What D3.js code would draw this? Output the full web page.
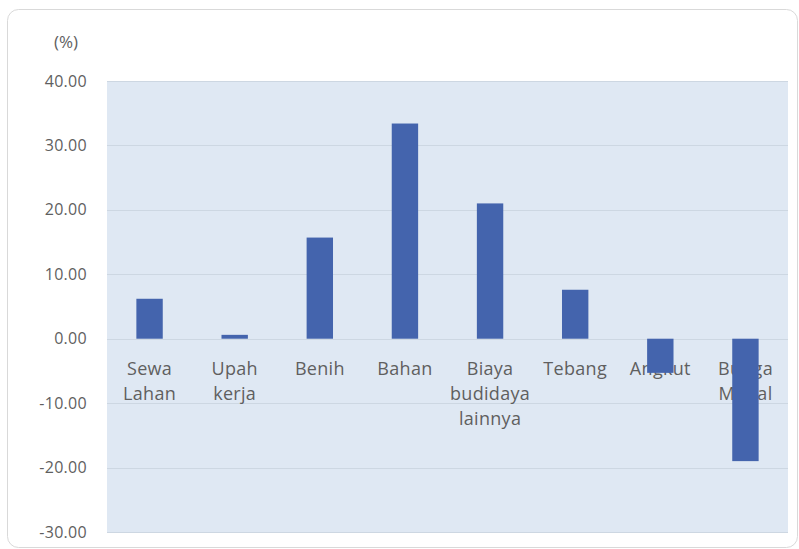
<!DOCTYPE html>
<html>
<head>
<meta charset="utf-8">
<script src="https://cdn.jsdelivr.net/npm/d3@7"></script>
<style>
  html, body { margin: 0; padding: 0; background: #ffffff; }
  svg { display: block; }
</style>
</head>
<body>
<div id="chart"></div>
<script>
// ---- data ----
const categories = ["Sewa Lahan", "Upah kerja", "Benih", "Bahan", "Biaya budidaya lainnya", "Tebang", "Angkut", "Bunga Modal"];
const categoryLines = [["Sewa", "Lahan"], ["Upah", "kerja"], ["Benih"], ["Bahan"], ["Biaya", "budidaya", "lainnya"], ["Tebang"], ["Angkut"], ["Bunga", "Modal"]];
const values = [6.2, 0.6, 15.7, 33.4, 21.0, 7.6, -5.3, -19.0];
const tickValues = [-30, -20, -10, 0, 10, 20, 30, 40];
const unitLabel = "(%)";

// ---- layout ----
const W = 799, H = 549;
const plot = { left: 107, right: 788, top: 81, bottom: 532 };
const FONT = "'Open Sans', 'Noto Sans', sans-serif";
const TEXT_COLOR = "#5f5f5f";

const svg = d3.select("#chart").append("svg")
  .attr("width", W).attr("height", H);

// outer frame
svg.append("rect")
  .attr("x", 7.5).attr("y", 9.5)
  .attr("width", 790).attr("height", 538)
  .attr("rx", 11).attr("ry", 11)
  .attr("fill", "#ffffff")
  .attr("stroke", "#d9d9d9")
  .attr("stroke-width", 1);

const x = d3.scaleBand()
  .domain(categories)
  .range([plot.left, plot.right])
  .paddingInner(0.69)
  .paddingOuter(0.345);

const y = d3.scaleLinear()
  .domain([tickValues[0], tickValues[tickValues.length - 1]])
  .range([plot.bottom, plot.top]);

// plot background
svg.append("rect")
  .attr("x", plot.left).attr("y", plot.top)
  .attr("width", plot.right - plot.left)
  .attr("height", plot.bottom - plot.top)
  .attr("fill", "#dfe8f3");

// gridlines
svg.append("g")
  .selectAll("line")
  .data(tickValues)
  .join("line")
  .attr("x1", plot.left).attr("x2", plot.right)
  .attr("y1", d => Math.round(y(d)) + 0.5)
  .attr("y2", d => Math.round(y(d)) + 0.5)
  .attr("stroke", "#cdd7e2")
  .attr("stroke-width", 1);

// y axis
const fmt = d3.formatLocale({ decimal: ".", thousands: ",", grouping: [3], currency: ["", ""], minus: "-" }).format(".2f");
const yAxis = svg.append("g")
  .attr("transform", `translate(${plot.left},0)`)
  .call(d3.axisLeft(y).tickValues(tickValues).tickFormat(fmt).tickSize(0).tickPadding(20));
yAxis.select(".domain").remove();
yAxis.selectAll("text")
  .attr("fill", TEXT_COLOR)
  .style("font-family", FONT)
  .style("font-size", "16px")
  .style("letter-spacing", "0.3px");

// unit label
svg.append("text")
  .attr("x", 66).attr("y", 48)
  .attr("text-anchor", "middle")
  .attr("fill", TEXT_COLOR)
  .style("font-family", FONT)
  .style("font-size", "17px")
  .text(unitLabel);

// category labels (drawn under the bars, next to the zero line)
const labels = svg.append("g")
  .selectAll("text")
  .data(categories)
  .join("text")
  .attr("text-anchor", "middle")
  .attr("fill", TEXT_COLOR)
  .style("font-family", FONT)
  .style("font-size", "18px")
  .style("letter-spacing", "0.3px")
  .attr("transform", d => `translate(${x(d) + x.bandwidth() / 2},${y(0) + 36})`);
labels.each(function (d, i) {
  d3.select(this).selectAll("tspan")
    .data(categoryLines[i])
    .join("tspan")
    .attr("x", 0)
    .attr("y", (t, j) => j * 25)
    .text(t => t);
});

// bars
svg.append("g")
  .selectAll("rect")
  .data(values)
  .join("rect")
  .attr("x", (d, i) => x(categories[i]))
  .attr("width", x.bandwidth())
  .attr("y", d => y(Math.max(0, d)))
  .attr("height", d => Math.abs(y(d) - y(0)))
  .attr("fill", "#4464ad");
</script>
</body>
</html>
